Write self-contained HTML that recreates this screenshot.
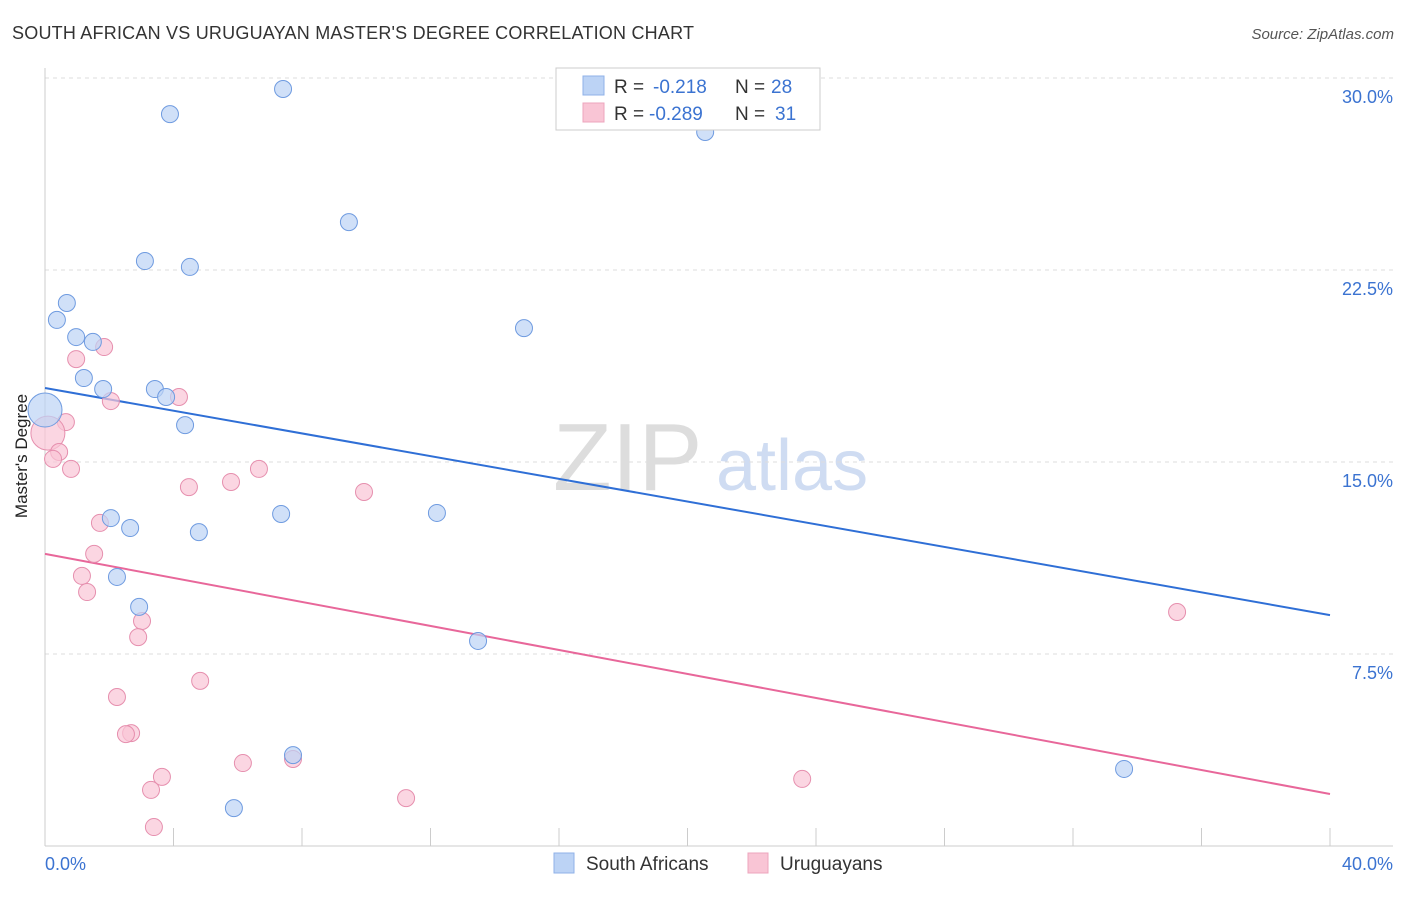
<!DOCTYPE html>
<html><head><meta charset="utf-8"><style>
body{margin:0;background:#fff;font-family:"Liberation Sans",sans-serif;}
svg text{font-family:"Liberation Sans",sans-serif;}
</style></head><body>
<svg width="1406" height="892" xmlns="http://www.w3.org/2000/svg">
<text x="12" y="39" font-size="18" fill="#333" textLength="682">SOUTH AFRICAN VS URUGUAYAN MASTER'S DEGREE CORRELATION CHART</text>
<text x="1394" y="39" font-size="15" fill="#555" font-style="italic" text-anchor="end">Source: ZipAtlas.com</text>
<g>
<text x="553" y="490" font-size="96" fill="#ddd" font-family="Liberation Serif">ZIP</text>
<text x="716" y="490" font-size="72" fill="#cfdcf2">atlas</text>
</g>
<g id="grid"></g>
<line x1="45" y1="68" x2="45" y2="846" stroke="#ccc"/>
<line x1="45" y1="846" x2="1393" y2="846" stroke="#ccc"/>
<g id="ticks"></g>
<text x="27" y="456" font-size="17" fill="#222" text-anchor="middle" transform="rotate(-90 27 456)">Master's Degree</text>
<text x="45" y="870" font-size="18" fill="#3b73d1">0.0%</text>
<text x="1393" y="870" font-size="18" fill="#3b73d1" text-anchor="end">40.0%</text>
<g id="lines"></g>
<g id="points"></g>
<g>
<rect x="556" y="68" width="264" height="62" fill="#fff" stroke="#ccc"/>
<rect x="583" y="76" width="21" height="19" fill="#bcd3f5" stroke="#8fb2e8"/>
<rect x="583" y="103" width="21" height="19" fill="#f9c5d5" stroke="#eda5bd"/>
<g font-size="19">
<text x="614" y="93" fill="#333">R =</text>
<text x="653" y="93" fill="#3b73d1">-0.218</text>
<text x="735" y="93" fill="#333">N =</text>
<text x="771" y="93" fill="#3b73d1">28</text>
</g>
<g font-size="19">
<text x="614" y="120" fill="#333">R =</text>
<text x="649" y="120" fill="#3b73d1">-0.289</text>
<text x="735" y="120" fill="#333">N =</text>
<text x="775" y="120" fill="#3b73d1">31</text>
</g>
</g>
<g>
<rect x="554" y="853" width="20" height="20" fill="#bcd3f5" stroke="#8fb2e8"/>
<text x="586" y="870" font-size="19" fill="#333">South Africans</text>
<rect x="748" y="853" width="20" height="20" fill="#f9c5d5" stroke="#eda5bd"/>
<text x="780" y="870" font-size="19" fill="#333">Uruguayans</text>
</g>
</svg>
<script>
const yTicks=[7.5,15,22.5,30];
const yTickLabels=["7.5%","15.0%","22.5%","30.0%"];
const xTickVals=[0,4,8,12,16,20,24,28,32,36,40];
const blueX=[7.41,3.89,20.55,9.46,3.11,4.51,0.68,0.37,0.97,1.49,14.91,1.21,1.81,3.42,3.77,0,4.36,2.05,2.65,7.35,12.20,4.79,2.24,2.93,13.48,7.72,33.59,5.88];
const blueY=[29.57,28.59,27.89,24.37,22.85,22.62,21.21,20.55,19.88,19.69,20.23,18.28,17.85,17.85,17.54,17.03,16.44,12.81,12.42,12.97,13.01,12.26,10.51,9.34,8.01,3.55,3.01,1.48];
const blueBig=[15];
const pinkX=[1.84,0.97,2.05,4.17,0.65,0.09,0.44,0.25,0.81,6.66,4.48,5.79,9.93,1.71,1.53,1.15,1.31,3.02,2.90,4.83,2.24,2.68,2.52,3.64,6.16,7.72,3.30,11.24,23.57,3.39,35.24];
const pinkY=[19.49,19.02,17.38,17.54,16.56,16.13,15.39,15.12,14.73,14.73,14.02,14.22,13.83,12.62,11.41,10.55,9.92,8.79,8.16,6.45,5.82,4.41,4.37,2.70,3.24,3.40,2.19,1.87,2.62,0.74,9.14];
const pinkBig=[5];
const blueTrend=[17.89,9.02];
const pinkTrend=[11.41,2.03];
const X=v=>45+v/40*1285, Y=v=>846-v/30*768;
const NS="http://www.w3.org/2000/svg";
function mk(t,a,p){const e=document.createElementNS(NS,t);for(const k in a)e.setAttribute(k,a[k]);document.getElementById(p).appendChild(e);return e;}
yTicks.forEach((t,i)=>{
 const l=mk('line',{x1:45,x2:1393,y1:Y(t),y2:Y(t),stroke:'#ddd','stroke-dasharray':'4 4'},'grid');
 
 
 const tx=mk('text',{x:1393,y:Y(t)+25,'font-size':18,fill:'#3b73d1','text-anchor':'end'},'grid');tx.textContent=yTickLabels[i];
 
 
});
xTickVals.forEach(v=>{
 const l=mk('line',{x1:X(v),x2:X(v),y1:828,y2:846,stroke:'#ccc'},'ticks');
 
 
});
function trend(t,c,n){const l=mk('line',{x1:X(0),x2:X(40),y1:Y(t[0]),y2:Y(t[1]),stroke:c,'stroke-width':2},'lines');
 
 }
trend(blueTrend,'#2f6fd6','trend-line-south-africans');
trend(pinkTrend,'#e8679a','trend-line-uruguayans');
function pts(xs,ys,big,f,s,n){xs.forEach((x,i)=>{
 const c=mk('circle',{cx:X(x),cy:Y(ys[i]),r:big.includes(i)?17:8.5,fill:f,'fill-opacity':0.7,stroke:s,'stroke-width':1},'points');
 
 });}
pts(pinkX,pinkY,pinkBig,'#f9c5d5','#e68fae','point-uruguayan');
pts(blueX,blueY,blueBig,'#bcd3f5','#6f9be0','point-south-african');
</script>
</body></html>
